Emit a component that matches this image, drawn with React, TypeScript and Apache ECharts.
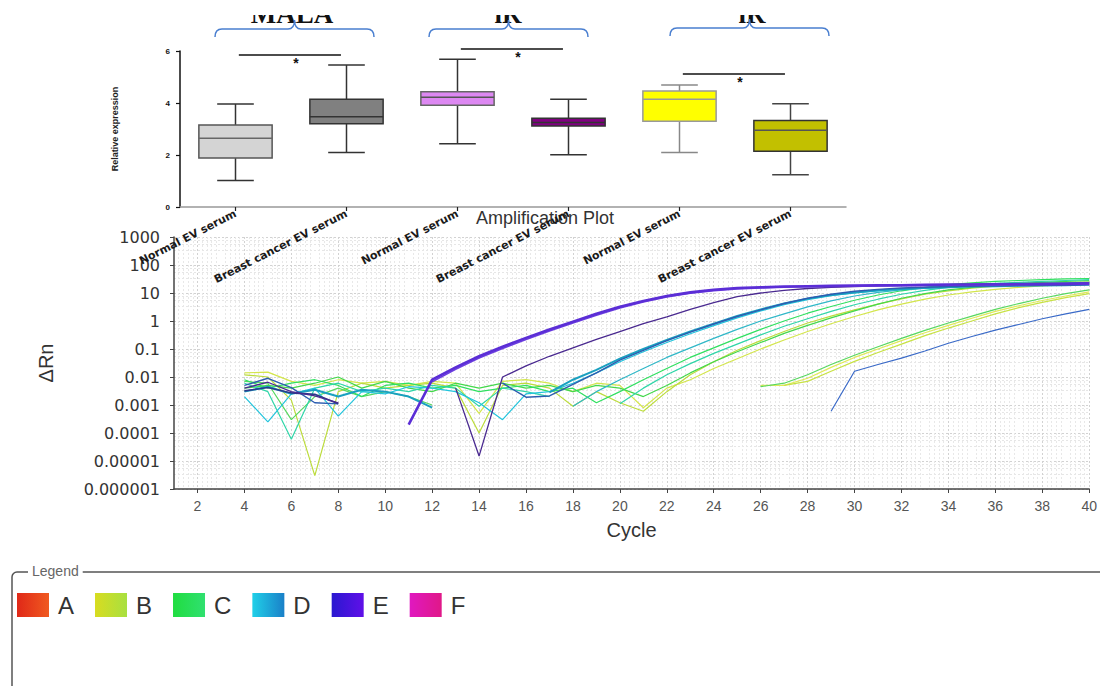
import React, { useEffect, useRef } from "react";
import * as echarts from "echarts";

const N = null;

// ---------- Box plot data ----------
const boxCategories = [
  "Normal EV serum",
  "Breast cancer EV serum",
  "Normal EV serum",
  "Breast cancer EV serum",
  "Normal EV serum",
  "Breast cancer EV serum",
];
const boxMin = [1.02, 2.1, 2.43, 2.01, 2.1, 1.24];
const boxQ1 = [1.88, 3.2, 3.91, 3.12, 3.3, 2.14];
const boxMedian = [2.64, 3.47, 4.22, 3.25, 4.14, 2.95];
const boxQ3 = [3.15, 4.14, 4.43, 3.41, 4.46, 3.33];
const boxMax = [3.96, 5.46, 5.68, 4.14, 4.69, 3.97];
const boxFill = ["#d4d4d4", "#808080", "#dd88f2", "#800080", "#ffff00", "#c2c000"];
const boxBorder = ["#555555", "#333333", "#666666", "#333333", "#999999", "#333333"];
const boxWhisker = ["#333333", "#333333", "#333333", "#333333", "#888888", "#444444"];
const boxMedianColor = ["#666666", "#333333", "#555555", "#333333", "#999999", "#555555"];
const sigPairs = [
  [0, 1],
  [2, 3],
  [4, 5],
];
const sigHeights = [5.85, 6.08, 5.12];
const groupTitles = ["MALA", "iR", "iR"];

// ---------- Amplification plot data ----------
const cycleTickLabels = [2, 4, 6, 8, 10, 12, 14, 16, 18, 20, 22, 24, 26, 28, 30, 32, 34, 36, 38, 40];
const ampYTickLabels = ["0.000001", "0.00001", "0.0001", "0.001", "0.01", "0.1", "1", "10", "100", "1000"];

const curveE1 = { start: 11, values: [0.0002, 0.008, 0.022, 0.055, 0.12, 0.25, 0.5, 0.95, 1.8, 3.2, 5.2, 7.8, 10.5, 13, 15, 16, 17, 17.5, 18, 18.5, 19, 19, 19.5, 20, 20, 20.5, 21, 21, 21.5, 22] };
const curveE2 = { start: 12, values: [0.0068, 0.019, 0.048, 0.105, 0.22, 0.44, 0.85, 1.6, 2.9, 4.8, 7.2, 9.8, 12.2, 14, 15.2, 16, 16.8, 17.2, 17.6, 18, 18.2, 18.6, 19, 19.2, 19.5, 19.8, 20, 20.2, 20.5] };
const curveE3 = { start: 4, values: [0.004, 0.0065, 0.003, 0.0021, 0.0012, N, N, N, N, 0.004, 0.000015, 0.01, 0.025, 0.055, 0.11, 0.22, 0.42, 0.8, 1.4, 2.6, 4.5, 7.4, 10, 12.5, 14.5, 16, 17, 18, 18.8, 19.5, 20, 20.5, 21, 21.5, 22, 22, 22.5] };
const curveE4 = { start: 4, values: [0.0032, 0.0042, 0.0027, 0.0024, 0.0011] };
const curveD3 = { start: 4, values: [0.005, 0.009, 0.0042, 0.0012, 0.0011, N, N, N, N, N, N, 0.006, 0.0019, 0.0021, 0.0055, 0.014, 0.04, 0.09, 0.2, 0.4, 0.78, 1.45, 2.5, 4.2, 6.5, 9, 11.5, 13.5, 15, 16, 17, 17.5, 18, 18.5, 19, 19, 19.5] };
const curveD1 = { start: 4, values: [0.003, 0.0045, 0.0025, 0.0035, 0.002, 0.0035, 0.003, 0.002, 0.0008, N, N, N, N, 0.0028, 0.008, 0.018, 0.045, 0.1, 0.21, 0.42, 0.8, 1.5, 2.6, 4.2, 6.3, 8.5, 10.5, 12.5, 14, 15, 16, 17, 17.5, 18, 18.5, 19, 20] };
const curveD2 = { start: 4, values: [0.002, 0.00025, 0.0025, 0.004, 0.0004, 0.003, 0.0025, 0.0045, 0.004, 0.003, 0.0012, 0.0003, 0.0025, 0.003, 0.006, 0.014, 0.035, 0.08, 0.17, 0.35, 0.68, 1.3, 2.3, 3.8, 5.8, 8, 10, 12, 14, 15.5, 17, 18, 19, 20, 20.5, 21, 22] };
const curveD5 = { start: 18, values: [0.0009, 0.003, 0.008, 0.02, 0.05, 0.11, 0.24, 0.5, 1, 1.8, 3.2, 5.2, 7.8, 10.5, 13, 15, 17, 18.5, 20, 21, 22, 23, 24] };
const curveC1 = { start: 4, values: [0.006, 0.003, 0.00006, 0.004, 0.006, 0.003, 0.004, 0.003, 0.005, 0.004, 0.0009, 0.004, 0.003, 0.002, N, N, 0.0011, 0.004, 0.012, 0.03, 0.07, 0.15, 0.32, 0.65, 1.2, 2.2, 3.8, 6, 9, 12.5, 16, 19, 22, 24, 26, 28, 30] };
const curveC2 = { start: 4, values: [0.008, 0.004, 0.006, 0.008, 0.005, 0.002, 0.005, 0.006, 0.004, 0.005, 0.003, 0.004, 0.005, 0.003, 0.004, 0.0012, 0.003, 0.008, 0.02, 0.05, 0.11, 0.24, 0.5, 1, 1.9, 3.3, 5.5, 8.5, 12, 16, 20, 23, 26, 28, 30, 32, 33] };
const curveB1 = { start: 4, values: [0.012, 0.01, 0.0015, 0.000003, 0.003, 0.006, 0.004, 0.005, 0.006, 0.004, 0.0001, 0.005, 0.006, 0.004, 0.0009, 0.003, 0.0012, 0.0006, 0.003, 0.012, 0.035, 0.09, 0.2, 0.42, 0.85, 1.5, 2.5, 4, 6.2, 9, 12, 15, 17.5, 20, 22, 23.5, 25] };
const curveC3 = { start: 4, values: [0.004, 0.005, 0.004, 0.006, 0.01, 0.004, 0.007, 0.004, 0.003, 0.006, 0.004, 0.006, 0.004, 0.005, 0.003, 0.005, 0.004, 0.002, 0.005, 0.014, 0.035, 0.08, 0.17, 0.36, 0.7, 1.3, 2.3, 4, 6.5, 9.5, 13, 16, 19, 22, 24, 26, 28] };
const curveB2 = { start: 4, values: [0.014, 0.015, 0.007, 0.005, 0.008, 0.006, 0.007, 0.005, 0.007, 0.006, 0.0005, 0.007, 0.008, 0.006, 0.003, 0.006, 0.005, 0.0008, 0.004, 0.008, 0.02, 0.045, 0.1, 0.21, 0.42, 0.8, 1.45, 2.5, 4, 6, 8.5, 11, 13.5, 16, 18, 20, 22] };
const curveB3 = { start: 26, values: [0.005, 0.005, 0.009, 0.022, 0.05, 0.1, 0.2, 0.38, 0.7, 1.25, 2.2, 3.5, 5.4, 7.8, 11] };
const curveC4 = { start: 4, values: [0.007, 0.006, 0.0003, 0.002, 0.004, 0.002, 0.003, 0.002, 0.001, N, N, N, N, N, N, N, N, N, N, N, N, N, 0.0045, 0.006, 0.012, 0.028, 0.06, 0.12, 0.24, 0.46, 0.85, 1.5, 2.6, 4.2, 6.5, 9.5, 13] };
const curveB4 = { start: 27, values: [0.005, 0.007, 0.016, 0.036, 0.075, 0.15, 0.3, 0.56, 1, 1.8, 3, 4.6, 6.8, 9.5] };
const curveD4 = { start: 29, values: [0.0006, 0.016, 0.028, 0.047, 0.085, 0.16, 0.28, 0.47, 0.75, 1.2, 1.8, 2.6] };

const ampCurves = [
  { group: "B", color: "#d4e64c", width: 1.2, curve: curveB2 },
  { group: "B", color: "#bcdc3c", width: 1.2, curve: curveB1 },
  { group: "B", color: "#e0ea58", width: 1.2, curve: curveB3 },
  { group: "B", color: "#c8e244", width: 1.2, curve: curveB4 },
  { group: "C", color: "#58d860", width: 1.2, curve: curveC4 },
  { group: "C", color: "#44d84c", width: 1.2, curve: curveC3 },
  { group: "C", color: "#30e060", width: 1.2, curve: curveC2 },
  { group: "C", color: "#2fd6a8", width: 1.2, curve: curveC1 },
  { group: "D", color: "#30b8c8", width: 1.2, curve: curveD5 },
  { group: "D", color: "#22c4dc", width: 1.2, curve: curveD2 },
  { group: "D", color: "#1aa0c0", width: 2, curve: curveD1 },
  { group: "D", color: "#2d5db0", width: 1.4, curve: curveD3 },
  { group: "D", color: "#3a6ac8", width: 1.2, curve: curveD4 },
  { group: "E", color: "#2a3a8a", width: 1.6, curve: curveE4 },
  { group: "E", color: "#4a2a90", width: 1.3, curve: curveE3 },
  { group: "E", color: "#6d3fe0", width: 1.6, curve: curveE2 },
  { group: "E", color: "#5b2ed6", width: 2.6, curve: curveE1 },
];

const legendNames = ["A", "B", "C", "D", "E", "F"];
const legendFrom = ["#e02818", "#d8dc20", "#20dd40", "#20d0e8", "#2a18d0", "#e018c0"];
const legendTo = ["#f05a20", "#a8e040", "#30e070", "#1a80c8", "#6010e8", "#e01888"];

const braceD = "M0 8 Q0 0 7 0 L73 0 Q79.5 0 79.5 -9 Q79.5 0 86 0 L152 0 Q159 0 159 8";
echarts.graphic.registerShape("brace", echarts.graphic.extendPath(braceD, {}));

export default function App() {
  const ref = useRef<HTMLDivElement>(null);

  useEffect(() => {
    if (!ref.current) return;
    const chart = echarts.init(ref.current, null, { renderer: "svg" });

    const ampSeries = ampCurves.map((c) => ({
      type: "line",
      name: c.group,
      xAxisIndex: 1,
      yAxisIndex: 1,
      data: c.curve.values.map((v, i) => [c.curve.start + i, v]),
      showSymbol: false,
      symbol: "none",
      connectNulls: false,
      lineStyle: { color: c.color, width: c.width },
      itemStyle: { color: c.color },
      z: 2,
    }));

    const braceX = [215, 429, 670];
    const braceY = [29, 29, 28];
    const titleX = [292, 508, 752];

    const option: any = {
      animation: false,
      backgroundColor: "#ffffff",
      textStyle: { fontFamily: "'Liberation Sans', Arial, sans-serif" },
      grid: [
        { left: 180, right: 254, top: 51, bottom: 479 },
        { left: 174, right: 7, top: 237, bottom: 197 },
      ],
      legend: {
        left: 17,
        top: 593,
        orient: "horizontal",
        icon: "rect",
        itemWidth: 32,
        itemHeight: 24,
        itemGap: 21,
        selectedMode: false,
        padding: 0,
        textStyle: { fontSize: 24, color: "#333", padding: [0, 0, 0, 4] },
        data: legendNames.map((n, i) => ({
          name: n,
          icon: "rect",
          itemStyle: {
            color: new echarts.graphic.LinearGradient(0, 0, 1, 0, [
              { offset: 0, color: legendFrom[i] },
              { offset: 1, color: legendTo[i] },
            ]),
            borderWidth: 0,
          },
        })),
      },
      xAxis: [
        {
          type: "category",
          gridIndex: 0,
          data: boxCategories,
          z: 10,
          axisLine: { show: true, lineStyle: { color: "#999", width: 1.5 } },
          axisTick: { show: true, alignWithLabel: true, length: 4, lineStyle: { color: "#222", width: 1.2 } },
          axisLabel: {
            interval: 0,
            rotate: 27,
            fontSize: 11,
            fontWeight: "bold",
            fontFamily: "'DejaVu Sans', sans-serif",
            color: "#1a1a1a",
            margin: 6,
          },
          splitLine: { show: false },
        },
        {
          type: "value",
          gridIndex: 1,
          min: 1,
          max: 40,
          interval: 1,
          axisLine: { show: true, lineStyle: { color: "#444", width: 1.5 } },
          axisTick: { show: true, customValues: cycleTickLabels, length: 4, lineStyle: { color: "#444" } },
          axisLabel: { customValues: cycleTickLabels, fontSize: 14, color: "#555", margin: 10 },
          splitLine: { show: true, lineStyle: { color: "#d2d2d2", type: [2, 2], width: 1 } },
          minorTick: { show: false, splitNumber: 5 },
          minorSplitLine: { show: true, lineStyle: { color: "#e8e8e8", type: [2, 2], width: 1 } },
          name: "Cycle",
          nameLocation: "middle",
          nameGap: 31,
          nameTextStyle: { fontSize: 20, color: "#333" },
        },
      ],
      yAxis: [
        {
          type: "value",
          gridIndex: 0,
          min: 0,
          max: 6,
          interval: 2,
          z: 10,
          axisLine: { show: true, lineStyle: { color: "#111", width: 1.5 } },
          axisTick: { show: true, length: 4, lineStyle: { color: "#111", width: 1.2 } },
          axisLabel: { fontSize: 8, fontWeight: "bold", color: "#111", margin: 10 },
          splitLine: { show: false },
          name: "Relative expression",
          nameLocation: "middle",
          nameRotate: 90,
          nameGap: 61,
          nameTextStyle: {
            fontSize: 9,
            fontWeight: "bold",
            color: "#222",
            fontFamily: "'Liberation Sans Narrow', 'Liberation Sans', sans-serif",
          },
        },
        {
          type: "log",
          gridIndex: 1,
          logBase: 10,
          min: 0.000001,
          max: 1000,
          interval: 1,
          axisLine: { show: true, lineStyle: { color: "#444", width: 1.5 } },
          axisTick: { show: true, length: 4, lineStyle: { color: "#444" } },
          axisLabel: {
            fontSize: 16,
            color: "#333",
            fontFamily: "'DejaVu Sans', sans-serif",
            margin: 14,
            formatter: (v: number) => ampYTickLabels[Math.round(Math.log10(v)) + 6],
          },
          splitLine: { show: true, lineStyle: { color: "#d2d2d2", type: [2, 2], width: 1 } },
          minorTick: { show: false, splitNumber: 4 },
          minorSplitLine: { show: true, lineStyle: { color: "#e6e6e6", type: [2, 2], width: 1 } },
          name: "ΔRn",
          nameLocation: "middle",
          nameRotate: 90,
          nameGap: 118,
          nameTextStyle: { fontSize: 20, color: "#333" },
        },
      ],
      series: [
        ...ampSeries,
        { type: "line", name: "A", xAxisIndex: 1, yAxisIndex: 1, data: [] },
        { type: "line", name: "F", xAxisIndex: 1, yAxisIndex: 1, data: [] },
        {
          type: "custom",
          name: "boxes",
          xAxisIndex: 0,
          yAxisIndex: 0,
          z: 5,
          data: boxCategories.map((_, i) => [i, boxMin[i], boxQ1[i], boxMedian[i], boxQ3[i], boxMax[i]]),
          encode: { x: 0, y: [1, 2, 3, 4, 5] },
          renderItem: (params: any, api: any) => {
            const idx = api.value(0);
            const i = params.dataIndex;
            const pMin = api.coord([idx, api.value(1)]);
            const pQ1 = api.coord([idx, api.value(2)]);
            const pMed = api.coord([idx, api.value(3)]);
            const pQ3 = api.coord([idx, api.value(4)]);
            const pMax = api.coord([idx, api.value(5)]);
            const band = api.size([1, 0])[0];
            const hw = band * 0.33;
            const cw = hw * 0.5;
            const cx = pMed[0];
            const ws = { stroke: boxWhisker[i], lineWidth: 1.5 };
            return {
              type: "group",
              children: [
                { type: "line", shape: { x1: cx, y1: pMax[1], x2: cx, y2: pQ3[1] }, style: ws },
                { type: "line", shape: { x1: cx, y1: pQ1[1], x2: cx, y2: pMin[1] }, style: ws },
                { type: "line", shape: { x1: cx - cw, y1: pMax[1], x2: cx + cw, y2: pMax[1] }, style: ws },
                { type: "line", shape: { x1: cx - cw, y1: pMin[1], x2: cx + cw, y2: pMin[1] }, style: ws },
                {
                  type: "rect",
                  shape: { x: cx - hw, y: pQ3[1], width: 2 * hw, height: pQ1[1] - pQ3[1] },
                  style: { fill: boxFill[i], stroke: boxBorder[i], lineWidth: 1.5 },
                },
                {
                  type: "line",
                  shape: { x1: cx - hw, y1: pMed[1], x2: cx + hw, y2: pMed[1] },
                  style: { stroke: boxMedianColor[i], lineWidth: 1.5 },
                },
              ],
            };
          },
        },
        {
          type: "custom",
          name: "significance",
          xAxisIndex: 0,
          yAxisIndex: 0,
          z: 5,
          data: sigPairs.map((p, i) => [p[0], p[1], sigHeights[i]]),
          encode: { x: [0, 1], y: 2 },
          renderItem: (params: any, api: any) => {
            const p1 = api.coord([api.value(0), api.value(2)]);
            const p2 = api.coord([api.value(1), api.value(2)]);
            const band = api.size([1, 0])[0];
            const x1 = p1[0] + band * 0.03;
            const x2 = p2[0] - band * 0.05;
            return {
              type: "group",
              children: [
                { type: "line", shape: { x1, y1: p1[1], x2, y2: p1[1] }, style: { stroke: "#111", lineWidth: 1.5 } },
                {
                  type: "text",
                  style: {
                    text: "*",
                    x: (x1 + x2) / 2 + 6,
                    y: p1[1] + 1,
                    align: "center",
                    verticalAlign: "top",
                    textAlign: "center",
                    textVerticalAlign: "top",
                    fontSize: 14,
                    fontWeight: "bold",
                    fill: "#111",
                  },
                },
              ],
            };
          },
        },
      ],
      graphic: [
        ...groupTitles.map((t, i) => ({
          type: "text",
          z2: 1,
          x: titleX[i],
          y: 13.8,
          style: {
            text: t,
            align: "center",
            verticalAlign: "middle",
            textAlign: "center",
            textVerticalAlign: "middle",
            font: "bold 27px 'Liberation Serif', 'Times New Roman', serif",
            fill: "#111",
          },
        })),
        {
          type: "rect",
          z2: 5,
          shape: { x: 180, y: 0, width: 700, height: 15 },
          style: { fill: "#ffffff" },
        },
        ...braceX.map((bx, i) => ({
          type: "brace",
          z2: 10,
          x: bx,
          y: braceY[i],
          style: { stroke: "#4a7fd0", fill: "none", lineWidth: 1.5 },
        })),
        {
          type: "text",
          z2: 10,
          x: 545,
          y: 218,
          style: {
            text: "Amplification Plot",
            align: "center",
            verticalAlign: "middle",
            textAlign: "center",
            textVerticalAlign: "middle",
            font: "18px 'Liberation Sans', Arial, sans-serif",
            fill: "#333",
          },
        },
        {
          type: "rect",
          z2: 10,
          shape: { x: 12, y: 572, width: 1100, height: 200, r: 5 },
          style: { fill: "none", stroke: "#555", lineWidth: 1.5 },
        },
        {
          type: "text",
          z2: 20,
          x: 28,
          y: 571,
          style: {
            text: "Legend",
            align: "left",
            verticalAlign: "middle",
            textAlign: "left",
            textVerticalAlign: "middle",
            font: "14px 'Liberation Sans', Arial, sans-serif",
            fill: "#666",
            backgroundColor: "#ffffff",
            padding: [1, 4, 1, 4],
          },
        },
      ],
    };

    chart.setOption(option);
    return () => chart.dispose();
  }, []);

  return (
    <div
      ref={ref}
      style={{ position: "fixed", left: 0, top: 0, width: 1100, height: 686, background: "#fff" }}
    />
  );
}
